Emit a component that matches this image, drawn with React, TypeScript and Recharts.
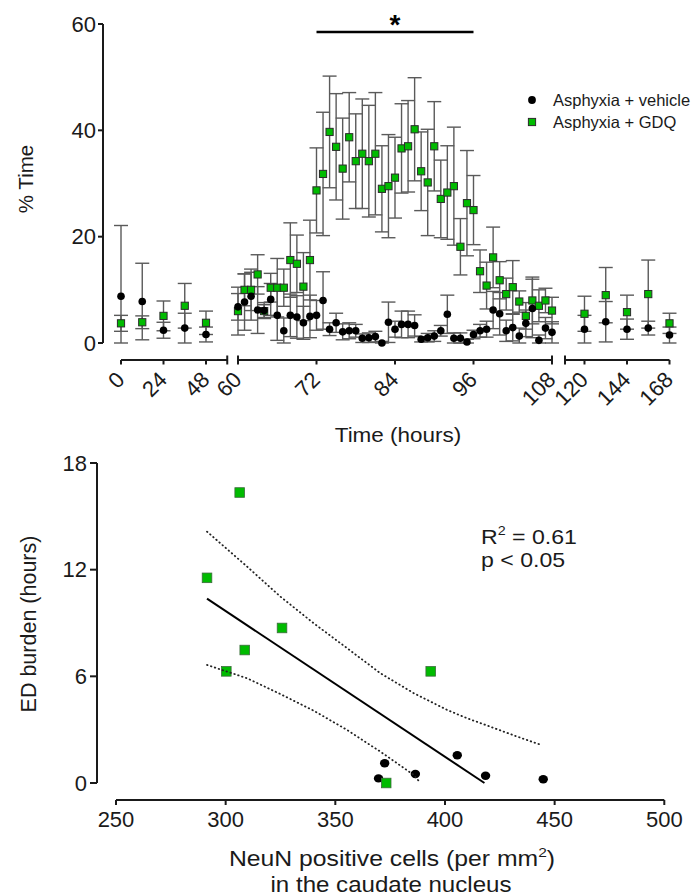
import { ScatterChart, Scatter, XAxis, YAxis, ErrorBar, ReferenceLine, Legend } from 'recharts'

const FONT = '"Liberation Sans", Arial, Helvetica, sans-serif'
const INK = '#1a1a1a'
const GREEN = '#00bb00'
const BAR = '#5a5a5a'
const TICK_FS = 22

// ---- top panel: % time per hour, broken time axis ----
const Y_TICKS = [0, 20, 40, 60]

const HOURS_EARLY = [0, 12, 24, 36, 48]
const VEH_EARLY = [8.8, 7.8, 2.4, 2.8, 1.6]
const VEH_EARLY_SEM = [13.3, 7.2, 1.5, 2.8, 1.4]
const GDQ_EARLY = [3.7, 3.9, 5.1, 7.0, 3.8]
const GDQ_EARLY_SEM = [1.5, 1.2, 2.8, 4.2, 2.2]

const HOURS_MID = [
  60, 61, 62, 63, 64, 65, 66, 67, 68, 69, 70, 71, 72, 73, 74, 75, 76, 77, 78, 79, 80, 81, 82, 83, 84,
  85, 86, 87, 88, 89, 90, 91, 92, 93, 94, 95, 96, 97, 98, 99, 100, 101, 102, 103, 104, 105, 106, 107, 108,
]
const VEH_MID = [
  6.8, 7.7, 8.8, 6.2, 6.1, 8.2, 5.2, 2.3, 5.2, 4.9, 3.8, 5.0, 5.2, 8.0, 2.6, 3.8, 2.1, 2.3, 2.3, 0.9, 1.0, 1.2, 0.0, 3.9, 2.6,
  3.5, 3.5, 3.3, 0.7, 1.0, 1.3, 2.3, 5.4, 0.9, 0.9, 0.2, 1.6, 2.3, 2.6, 6.2, 5.5, 2.3, 2.9, 1.3, 3.7, 6.5, 0.5, 2.8, 2.0,
]
const VEH_MID_SEM = [
  2.5, 5.3, 4.5, 4.4, 1.5, 3.0, 4.7, 2.4, 4.0, 4.0, 3.1, 4.0, 2.8, 5.4, 1.2, 1.8, 1.5, 1.5, 1.2, 0.8, 0.9, 1.0, 0.3, 3.8, 1.5,
  2.5, 2.5, 2.0, 0.5, 0.8, 1.0, 1.0, 3.6, 1.0, 1.0, 0.5, 0.8, 1.2, 1.5, 3.5, 4.0, 2.0, 2.5, 1.5, 2.5, 5.5, 1.0, 2.0, 2.0,
]
const GDQ_MID = [
  6.0, 10.0, 10.0, 12.9, 6.0, 10.4, 10.4, 10.4, 15.6, 14.9, 10.6, 15.6, 28.7, 31.8, 39.7, 36.9, 32.8, 38.7, 34.2, 35.6, 34.2, 35.6, 29.0, 29.5, 31.1,
  36.6, 37.0, 40.2, 32.3, 30.2, 37.0, 27.1, 28.3, 29.5, 18.1, 26.3, 25.0, 13.5, 10.8, 16.1, 11.8, 9.2, 10.5, 7.8, 5.1, 8.0, 7.0, 8.0, 6.1,
]
const GDQ_MID_SEM = [
  4.5, 3.0, 3.9, 3.7, 1.2, 2.7, 5.5, 3.5, 7.0, 5.4, 6.4, 7.5, 8.0, 11.6, 10.5, 10.0, 9.5, 8.4, 8.9, 10.3, 10.5, 11.5, 8.1, 9.7, 7.6,
  8.4, 8.6, 9.7, 7.4, 10.0, 8.4, 7.3, 8.8, 11.1, 5.3, 9.9, 6.5, 4.0, 4.4, 5.7, 3.5, 3.0, 5.0, 2.0, 2.5, 4.4, 3.0, 2.3, 2.5,
]

const HOURS_LATE = [120, 132, 144, 156, 168]
const VEH_LATE = [2.6, 4.0, 2.6, 2.8, 1.5]
const VEH_LATE_SEM = [2.6, 3.8, 1.9, 1.3, 1.5]
const GDQ_LATE = [5.5, 9.0, 5.8, 9.2, 3.7]
const GDQ_LATE_SEM = [3.3, 5.2, 3.2, 6.4, 1.9]

const SIG_SPAN = [72, 96]
const SIG_LEVEL = 58.5
const LEGEND = ['Asphyxia + vehicle', 'Asphyxia + GDQ']

// ---- bottom panel: ED burden vs NeuN ----
const NEUN_VEH = [372.5, 369.7, 386.5, 405.6, 418.5, 444.8]
const ED_VEH = [1.11, 0.26, 0.51, 1.56, 0.41, 0.21]
const NEUN_GDQ = [306.4, 291.5, 325.7, 308.7, 300.3, 393.5, 373.2]
const ED_GDQ = [16.34, 11.54, 8.72, 7.48, 6.28, 6.28, 0.0]
const FIT_X = [291.5, 418.0]
const FIT_Y = [10.37, 0.0]
const CI_UP_X = [291.5, 309.8, 325.0, 340.1, 355.4, 370.6, 385.8, 401.0, 410.1, 419.3, 432.9, 443.9]
const CI_UP_Y = [14.14, 12.17, 10.48, 8.99, 7.58, 6.17, 5.05, 4.11, 3.64, 3.23, 2.61, 2.14]
const CI_LO_X = [291.5, 300.3, 309.8, 325.0, 340.1, 355.4, 370.6, 385.8, 388.8]
const CI_LO_Y = [6.64, 6.28, 5.89, 5.0, 4.07, 2.98, 1.76, 0.45, 0.0]
const NEUN_TICKS = [250, 300, 350, 400, 450, 500]
const ED_TICKS = [0, 6, 12, 18]

// error bars stop at the x axis like the original
const rows = (hours: number[], mean: number[], sem: number[]) =>
  hours.map((t, i) => ({ t, y: mean[i], e: [Math.min(sem[i], mean[i]), sem[i]] }))
const pts = (xs: number[], ys: number[]) => xs.map((x, i) => ({ x, y: ys[i] }))

const topSquare = (p: any) => (
  <rect x={p.cx - 3.6} y={p.cy - 3.6} width={7.2} height={7.2} fill={GREEN} stroke="#2b2b2b" strokeWidth={1} />
)
const topDot = (p: any) => <circle cx={p.cx} cy={p.cy} r={3.8} fill="#000" />
const bigSquare = (p: any) => (
  <rect x={p.cx - 4.8} y={p.cy - 4.8} width={9.6} height={9.6} fill={GREEN} stroke="#3c6b3c" strokeWidth={0.8} />
)
const bigDot = (p: any) => <ellipse cx={p.cx} cy={p.cy} rx={4.7} ry={4.2} fill="#000" />
const noDot = () => <g />

function BreakTick(props: any) {
  const { x, y, payload, caps, unlabeled } = props
  const v = payload.value
  const cap = caps.includes(v)
  const tx = x + 5
  const ty = y + 21
  return (
    <g>
      <line x1={x} x2={x} y1={cap ? y - 4.5 : y} y2={y + 4.5} stroke={INK} strokeWidth={2} />
      {!unlabeled.includes(v) && (
        <text x={tx} y={ty} textAnchor="end" fontSize={TICK_FS} fontFamily={FONT} fill={INK}
          transform={`rotate(-45 ${tx} ${ty})`}>{v}</text>
      )}
    </g>
  )
}

function LegendBox() {
  return (
    <div style={{ fontFamily: FONT, fontSize: 16.5, color: INK }}>
      {LEGEND.map((name, i) => (
        <div key={name} style={{ display: 'flex', alignItems: 'center', height: 22 }}>
          <svg width={20} height={22}>
            {i === 0
              ? <circle cx={10} cy={11} r={3.9} fill="#000" />
              : <rect x={6.4} y={7.4} width={7.2} height={7.2} fill={GREEN} stroke="#2b2b2b" strokeWidth={1} />}
          </svg>
          <span style={{ marginLeft: 11, whiteSpace: 'nowrap' }}>{name}</span>
        </div>
      ))}
    </div>
  )
}

interface SegProps {
  plotLeft: number
  plotWidth: number
  domain: number[]
  ticks: number[]
  caps: number[]
  unlabeled: number[]
  veh: any[]
  gdq: any[]
  right?: number
  children?: any
}

function Segment({ plotLeft, plotWidth, domain, ticks, caps, unlabeled, veh, gdq, right = 20, children }: SegProps) {
  const ml = 40
  return (
    <div style={{ position: 'absolute', left: plotLeft - ml, top: 0 }}>
      <ScatterChart width={plotWidth + ml + right} height={440} margin={{ top: 24, right, bottom: 20, left: ml }}>
        <XAxis type="number" dataKey="t" domain={domain} ticks={ticks} interval={0} height={60}
          tickSize={0} tickMargin={0} tickLine={false} axisLine={{ stroke: INK, strokeWidth: 2 }}
          tick={(p: any) => <BreakTick {...p} caps={caps} unlabeled={unlabeled} />} />
        <YAxis type="number" dataKey="y" domain={[0, 60]} hide padding={{ bottom: 17 }} />
        <Scatter name={LEGEND[1]} data={gdq} shape={topSquare} isAnimationActive={false}>
          <ErrorBar dataKey="e" direction="y" width={7} stroke={BAR} strokeWidth={1.4} />
        </Scatter>
        <Scatter name={LEGEND[0]} data={veh} shape={topDot} isAnimationActive={false}>
          <ErrorBar dataKey="e" direction="y" width={7} stroke={BAR} strokeWidth={1.4} />
        </Scatter>
        {children}
      </ScatterChart>
    </div>
  )
}

const abs = (left: number, top: number, extra: any = {}) => ({
  position: 'absolute' as const, left, top, fontFamily: FONT, fontSize: 21, color: INK, whiteSpace: 'nowrap' as const, ...extra,
})

export default function App() {
  return (
    <div style={{ position: 'absolute', left: 0, top: 0, width: 695, height: 895, background: '#fff', overflow: 'hidden' }}>
      {/* top y axis */}
      <div style={{ position: 'absolute', left: 0, top: 0 }}>
        <ScatterChart width={115} height={360} margin={{ top: 24, right: 12, bottom: 17, left: 0 }}>
          <XAxis type="number" dataKey="t" domain={[0, 1]} hide />
          <YAxis type="number" dataKey="y" domain={[0, 60]} ticks={Y_TICKS} allowDataOverflow width={103}
            tickSize={5} tickMargin={2} axisLine={{ stroke: INK, strokeWidth: 2 }} tickLine={{ stroke: INK, strokeWidth: 2 }}
            tick={{ fontSize: TICK_FS, fill: INK, fontFamily: FONT }} />
        </ScatterChart>
      </div>

      <Segment plotLeft={121} plotWidth={106.25} domain={[0, 60]} ticks={[0, 24, 48, 60]} caps={[60]} unlabeled={[60]}
        veh={rows(HOURS_EARLY, VEH_EARLY, VEH_EARLY_SEM)} gdq={rows(HOURS_EARLY, GDQ_EARLY, GDQ_EARLY_SEM)} />

      <Segment plotLeft={238.3} plotWidth={314} domain={[60, 108]} ticks={[60, 72, 84, 96, 108]} caps={[60, 108]} unlabeled={[]}
        veh={rows(HOURS_MID, VEH_MID, VEH_MID_SEM)} gdq={rows(HOURS_MID, GDQ_MID, GDQ_MID_SEM)}>
        <ReferenceLine segment={[{ x: SIG_SPAN[0], y: SIG_LEVEL }, { x: SIG_SPAN[1], y: SIG_LEVEL }]}
          stroke="#000" strokeWidth={2.6} ifOverflow="visible"
          label={{ value: '*', position: 'top', offset: -2, fontSize: 28, fontWeight: 'bold', fill: '#000', fontFamily: FONT }} />
      </Segment>

      <Segment plotLeft={565} plotWidth={104.5} domain={[109, 168]} ticks={[109, 120, 144, 168]} caps={[109]} unlabeled={[109]}
        veh={rows(HOURS_LATE, VEH_LATE, VEH_LATE_SEM)} gdq={rows(HOURS_LATE, GDQ_LATE, GDQ_LATE_SEM)} right={25}>
        <Legend layout="vertical" align="center" verticalAlign="middle"
          wrapperStyle={{ position: 'absolute', left: -3, top: 89, width: 180 }} content={() => <LegendBox />} />
      </Segment>

      <div style={abs(26, 178.5, { fontSize: 20.5, transform: 'translate(-50%, -50%) rotate(-90deg)' })}>% Time</div>
      <div style={abs(397.5, 435, { transform: 'translate(-50%, -50%) scaleX(1.07)' })}>Time (hours)</div>

      {/* bottom y axis */}
      <div style={{ position: 'absolute', left: 0, top: 439 }}>
        <ScatterChart width={110} height={361} margin={{ top: 24, right: 13, bottom: 17, left: 0 }}>
          <XAxis type="number" dataKey="x" domain={[0, 1]} hide />
          <YAxis type="number" dataKey="y" domain={[0, 18]} ticks={ED_TICKS} allowDataOverflow width={97}
            tickSize={7} tickMargin={3} axisLine={{ stroke: INK, strokeWidth: 2 }} tickLine={{ stroke: INK, strokeWidth: 2 }}
            tick={{ fontSize: TICK_FS, fill: INK, fontFamily: FONT }} />
        </ScatterChart>
      </div>

      {/* bottom scatter + regression */}
      <div style={{ position: 'absolute', left: 85.7, top: 439 }}>
        <ScatterChart width={608.3} height={401} margin={{ top: 24, right: 30, bottom: 0, left: 30 }}>
          <XAxis type="number" dataKey="x" domain={[250, 500]} ticks={NEUN_TICKS} interval={0} height={40}
            tickSize={5} tickMargin={6} axisLine={{ stroke: INK, strokeWidth: 2 }} tickLine={{ stroke: INK, strokeWidth: 2 }}
            tick={{ fontSize: TICK_FS, fill: INK, fontFamily: FONT }} />
          <YAxis type="number" dataKey="y" domain={[0, 18]} hide padding={{ bottom: 17 }} />
          <Scatter data={pts(NEUN_VEH, ED_VEH)} shape={bigDot} isAnimationActive={false} />
          <Scatter data={pts(NEUN_GDQ, ED_GDQ)} shape={bigSquare} isAnimationActive={false} />
          <Scatter data={pts(FIT_X, FIT_Y)} shape={noDot} isAnimationActive={false}
            line={{ stroke: '#000', strokeWidth: 2 }} />
          <Scatter data={pts(CI_UP_X, CI_UP_Y)} shape={noDot} isAnimationActive={false}
            line={{ stroke: '#222', strokeWidth: 1.8, strokeDasharray: '0.5 3.6', strokeLinecap: 'round' }} />
          <Scatter data={pts(CI_LO_X, CI_LO_Y)} shape={noDot} isAnimationActive={false}
            line={{ stroke: '#222', strokeWidth: 1.8, strokeDasharray: '0.5 3.6', strokeLinecap: 'round' }} />
        </ScatterChart>
      </div>

      <div style={abs(481, 525.5, { lineHeight: '21px', transform: 'scaleX(1.1)', transformOrigin: 'left center' })}>
        R<span style={{ fontSize: 13, position: 'relative', top: -9 }}>2</span> = 0.61
      </div>
      <div style={abs(481, 549, { lineHeight: '21px', transform: 'scaleX(1.1)', transformOrigin: 'left center' })}>p &lt; 0.05</div>

      <div style={abs(29, 623.5, { fontSize: 21.5, transform: 'translate(-50%, -50%) rotate(-90deg)' })}>ED burden (hours)</div>
      <div style={abs(392, 860, { fontSize: 21.5, lineHeight: '22px', transform: 'translate(-50%, -50%) scaleX(1.15)' })}>
        NeuN positive cells (per mm<span style={{ fontSize: 13.5, position: 'relative', top: -9 }}>2</span>)
      </div>
      <div style={abs(391, 884.5, { fontSize: 21.5, lineHeight: '20px', transform: 'translate(-50%, -50%) scaleX(1.12)' })}>in the caudate nucleus</div>
    </div>
  )
}
